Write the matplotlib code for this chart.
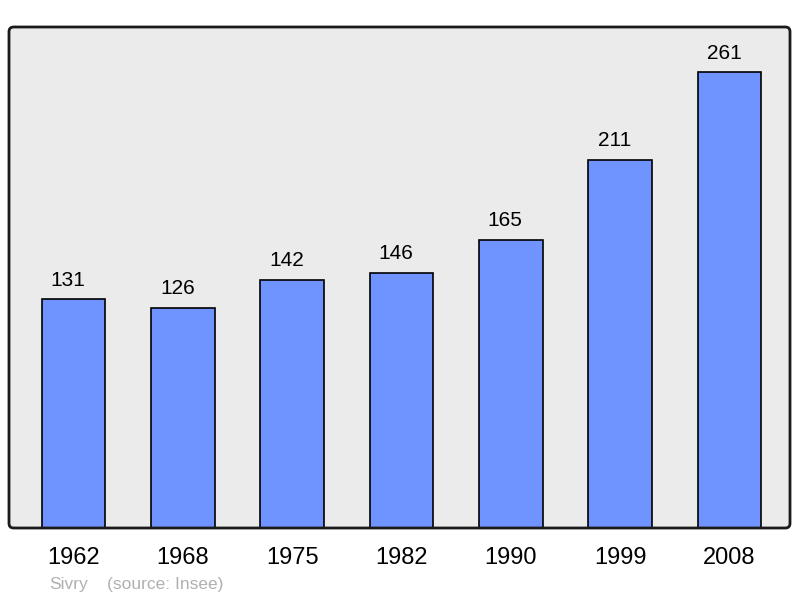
import matplotlib.pyplot as plt
from matplotlib.patches import FancyBboxPatch

years = ["1962", "1968", "1975", "1982", "1990", "1999", "2008"]
population = [131, 126, 142, 146, 165, 211, 261]
commune = "Sivry"
source = "(source: Insee)"

plt.rcParams['font.family'] = ['Liberation Sans', 'DejaVu Sans']

fig = plt.figure(figsize=(8, 5.98), dpi=100)
ax = fig.add_axes([9/800, 1 - 528/598, 781/800, 501/598])
ax.set_facecolor('#ebebeb')

x = list(range(len(years)))
ax.bar(x, population, width=0.58, color='#7094ff', edgecolor='black', linewidth=1.2, zorder=2)

for xi, v in zip(x, population):
    ax.annotate(str(v), (xi, v), xytext=(-4, 7), textcoords='offset points',
                ha='center', va='bottom', fontsize=15)

ax.set_xlim(-0.59, 6.553)
ax.set_ylim(0, 287)
ax.set_xticks(x)
ax.set_xticklabels(years, fontsize=17)
ax.tick_params(axis='x', length=0, pad=14)
ax.set_yticks([])
for s in ax.spines.values():
    s.set_visible(False)

# frame with slightly rounded corners
frame = FancyBboxPatch((0, 0), 1, 1, boxstyle="round,pad=0,rounding_size=0.006",
                       mutation_aspect=781/501, transform=ax.transAxes,
                       facecolor='none', edgecolor='#1a1a1a', linewidth=2, zorder=5,
                       clip_on=False)
ax.add_patch(frame)

fig.text(49/800, 1 - 585/598, commune, color='#b0b0b0', fontsize=12.5, va='center', ha='left')
fig.text(107/800, 1 - 585/598, source, color='#b0b0b0', fontsize=12.5, va='center', ha='left')

fig.savefig('out.png', dpi=100)
